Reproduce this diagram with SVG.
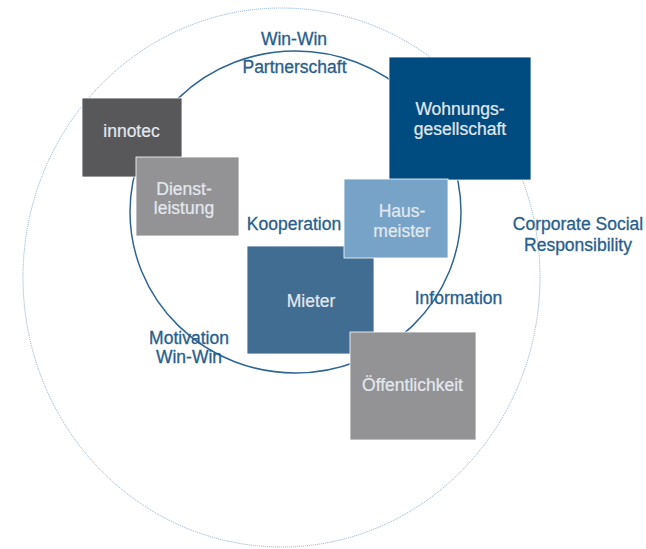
<svg xmlns="http://www.w3.org/2000/svg" width="646" height="549" viewBox="0 0 646 549">
<style>
.lbl{font-family:"Liberation Sans",Arial,sans-serif;font-size:17.5px;fill:#285e8d;stroke:#285e8d;stroke-width:0.3;text-anchor:middle}
.btx{font-family:"Liberation Sans",Arial,sans-serif;font-size:17.5px;fill:#e4e9ef;stroke:#e4e9ef;stroke-width:0.2;text-anchor:middle}
.box{stroke:#ffffff;stroke-width:0.8}
</style>
<rect width="646" height="549" fill="#ffffff"/>
<g id="connectors">
<ellipse id="outer" cx="281.5" cy="277.5" rx="258.5" ry="269.5" fill="none" stroke="#85aad0" stroke-width="1" stroke-dasharray="1 1"/>
<ellipse id="inner" cx="295.5" cy="212" rx="165.5" ry="161" fill="none" stroke="#2e6593" stroke-width="1.5"/>
</g>
<g id="labels">
<text class="lbl" x="294" y="45">Win-Win</text>
<text class="lbl" x="294.5" y="73">Partnerschaft</text>
<text class="lbl" x="294" y="230">Kooperation</text>
<text class="lbl" x="458.5" y="304">Information</text>
<text class="lbl" x="189" y="344">Motivation</text>
<text class="lbl" x="189" y="363">Win-Win</text>
<text class="lbl" x="578" y="230">Corporate Social</text>
<text class="lbl" x="578" y="250.5">Responsibility</text>
</g>
<g id="n-innotec">
<rect class="box" x="82" y="98" width="100" height="79" fill="#58585b"/>
<text class="btx" x="131.5" y="137">innotec</text>
</g>
<g id="n-dienstleistung">
<rect class="box" x="136" y="157" width="103" height="79" fill="#939396"/>
<text class="btx" x="184" y="195">Dienst-</text>
<text class="btx" x="184" y="214">leistung</text>
</g>
<g id="n-wohnungsgesellschaft">
<rect class="box" x="389" y="57" width="142" height="123" fill="#004b80"/>
<text class="btx" x="460" y="115">Wohnungs-</text>
<text class="btx" x="460" y="135">gesellschaft</text>
</g>
<g id="n-mieter">
<rect class="box" x="247" y="246" width="127" height="108" fill="#426d92"/>
<text class="btx" x="311" y="307">Mieter</text>
</g>
<g id="n-hausmeister">
<rect class="box" x="344" y="179" width="104" height="79" fill="#76a3c7"/>
<text class="btx" x="402" y="217">Haus-</text>
<text class="btx" x="402" y="237">meister</text>
</g>
<g id="n-oeffentlichkeit">
<rect class="box" x="350" y="332" width="126" height="108" fill="#939396"/>
<text class="btx" x="412.5" y="391">Öffentlichkeit</text>
</g>
</svg>
